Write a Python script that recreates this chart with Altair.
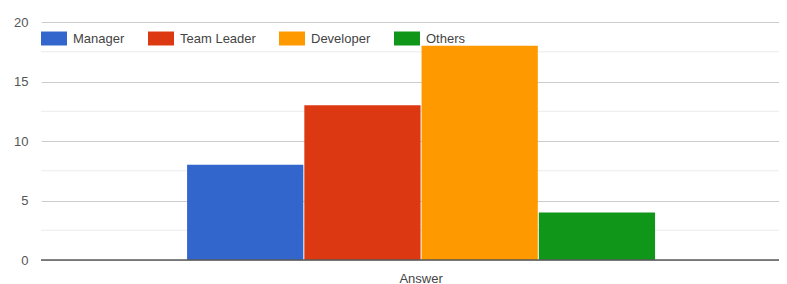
import altair as alt
import pandas as pd

categories = ["Answer"]
series = ["Manager", "Team Leader", "Developer", "Others"]
values = [8, 13, 18, 4]
colors = ["#3366CC", "#DC3912", "#FF9900", "#109618"]
y_ticks = [0, 5, 10, 15, 20]
minor_ticks = [2.5, 7.5, 12.5, 17.5]

FONT = "Liberation Sans"

bars_df = pd.DataFrame({"question": categories * len(series), "role": series, "count": values})
minor_df = pd.DataFrame({"v": minor_ticks})
base_df = pd.DataFrame({"v": [0]})

W, H = 738, 238

y_scale = alt.Scale(domain=[0, 20], nice=False)
y_axis = alt.Axis(values=y_ticks, title=None, ticks=False, domain=False, labelPadding=13,
                  labelFontSize=13, labelColor="#555555", labelFont=FONT,
                  gridColor="#cccccc", gridWidth=1)

minor = alt.Chart(minor_df).mark_rule(color="#ebebeb", strokeWidth=1).encode(
    y=alt.Y("v:Q", scale=y_scale, axis=y_axis)
)

bars = alt.Chart(bars_df).mark_bar().encode(
    x=alt.X(
        "question:N",
        scale=alt.Scale(domain=categories, paddingInner=0, paddingOuter=0.2885, align=0.541),
        axis=alt.Axis(title=None, labelAngle=0, ticks=False, domain=False, labelPadding=12,
                      labelFontSize=13, labelColor="#444444", labelFont=FONT, grid=False),
    ),
    xOffset=alt.XOffset("role:N", scale=alt.Scale(domain=series, paddingInner=0.0085, paddingOuter=0)),
    y=alt.Y("count:Q", scale=y_scale, axis=y_axis),
    color=alt.Color(
        "role:N",
        scale=alt.Scale(domain=series, range=colors),
        legend=alt.Legend(
            title=None, orient="none", legendX=0, legendY=3.5, direction="horizontal",
            symbolType="M-1,-0.538H1V0.538H-1Z", symbolSize=676, symbolStrokeWidth=0,
            labelFontSize=13, labelFont=FONT, labelColor="#444444", labelOffset=6,
            columnPadding=23, padding=0, symbolOpacity=1,
        ),
    ),
)

baseline = alt.Chart(base_df).mark_rule(color="#5a5a5a", strokeWidth=1.5).encode(
    y=alt.Y("v:Q", scale=y_scale, axis=y_axis)
)

chart = alt.layer(minor, bars, baseline).properties(
    width=W, height=H,
    autosize=alt.AutoSizeParams(type="none"),
    padding={"left": 33, "top": 14, "right": 0, "bottom": 30},
).configure_view(strokeWidth=0)

chart.save("out.html", embed_options={"renderer": "svg", "actions": False})
